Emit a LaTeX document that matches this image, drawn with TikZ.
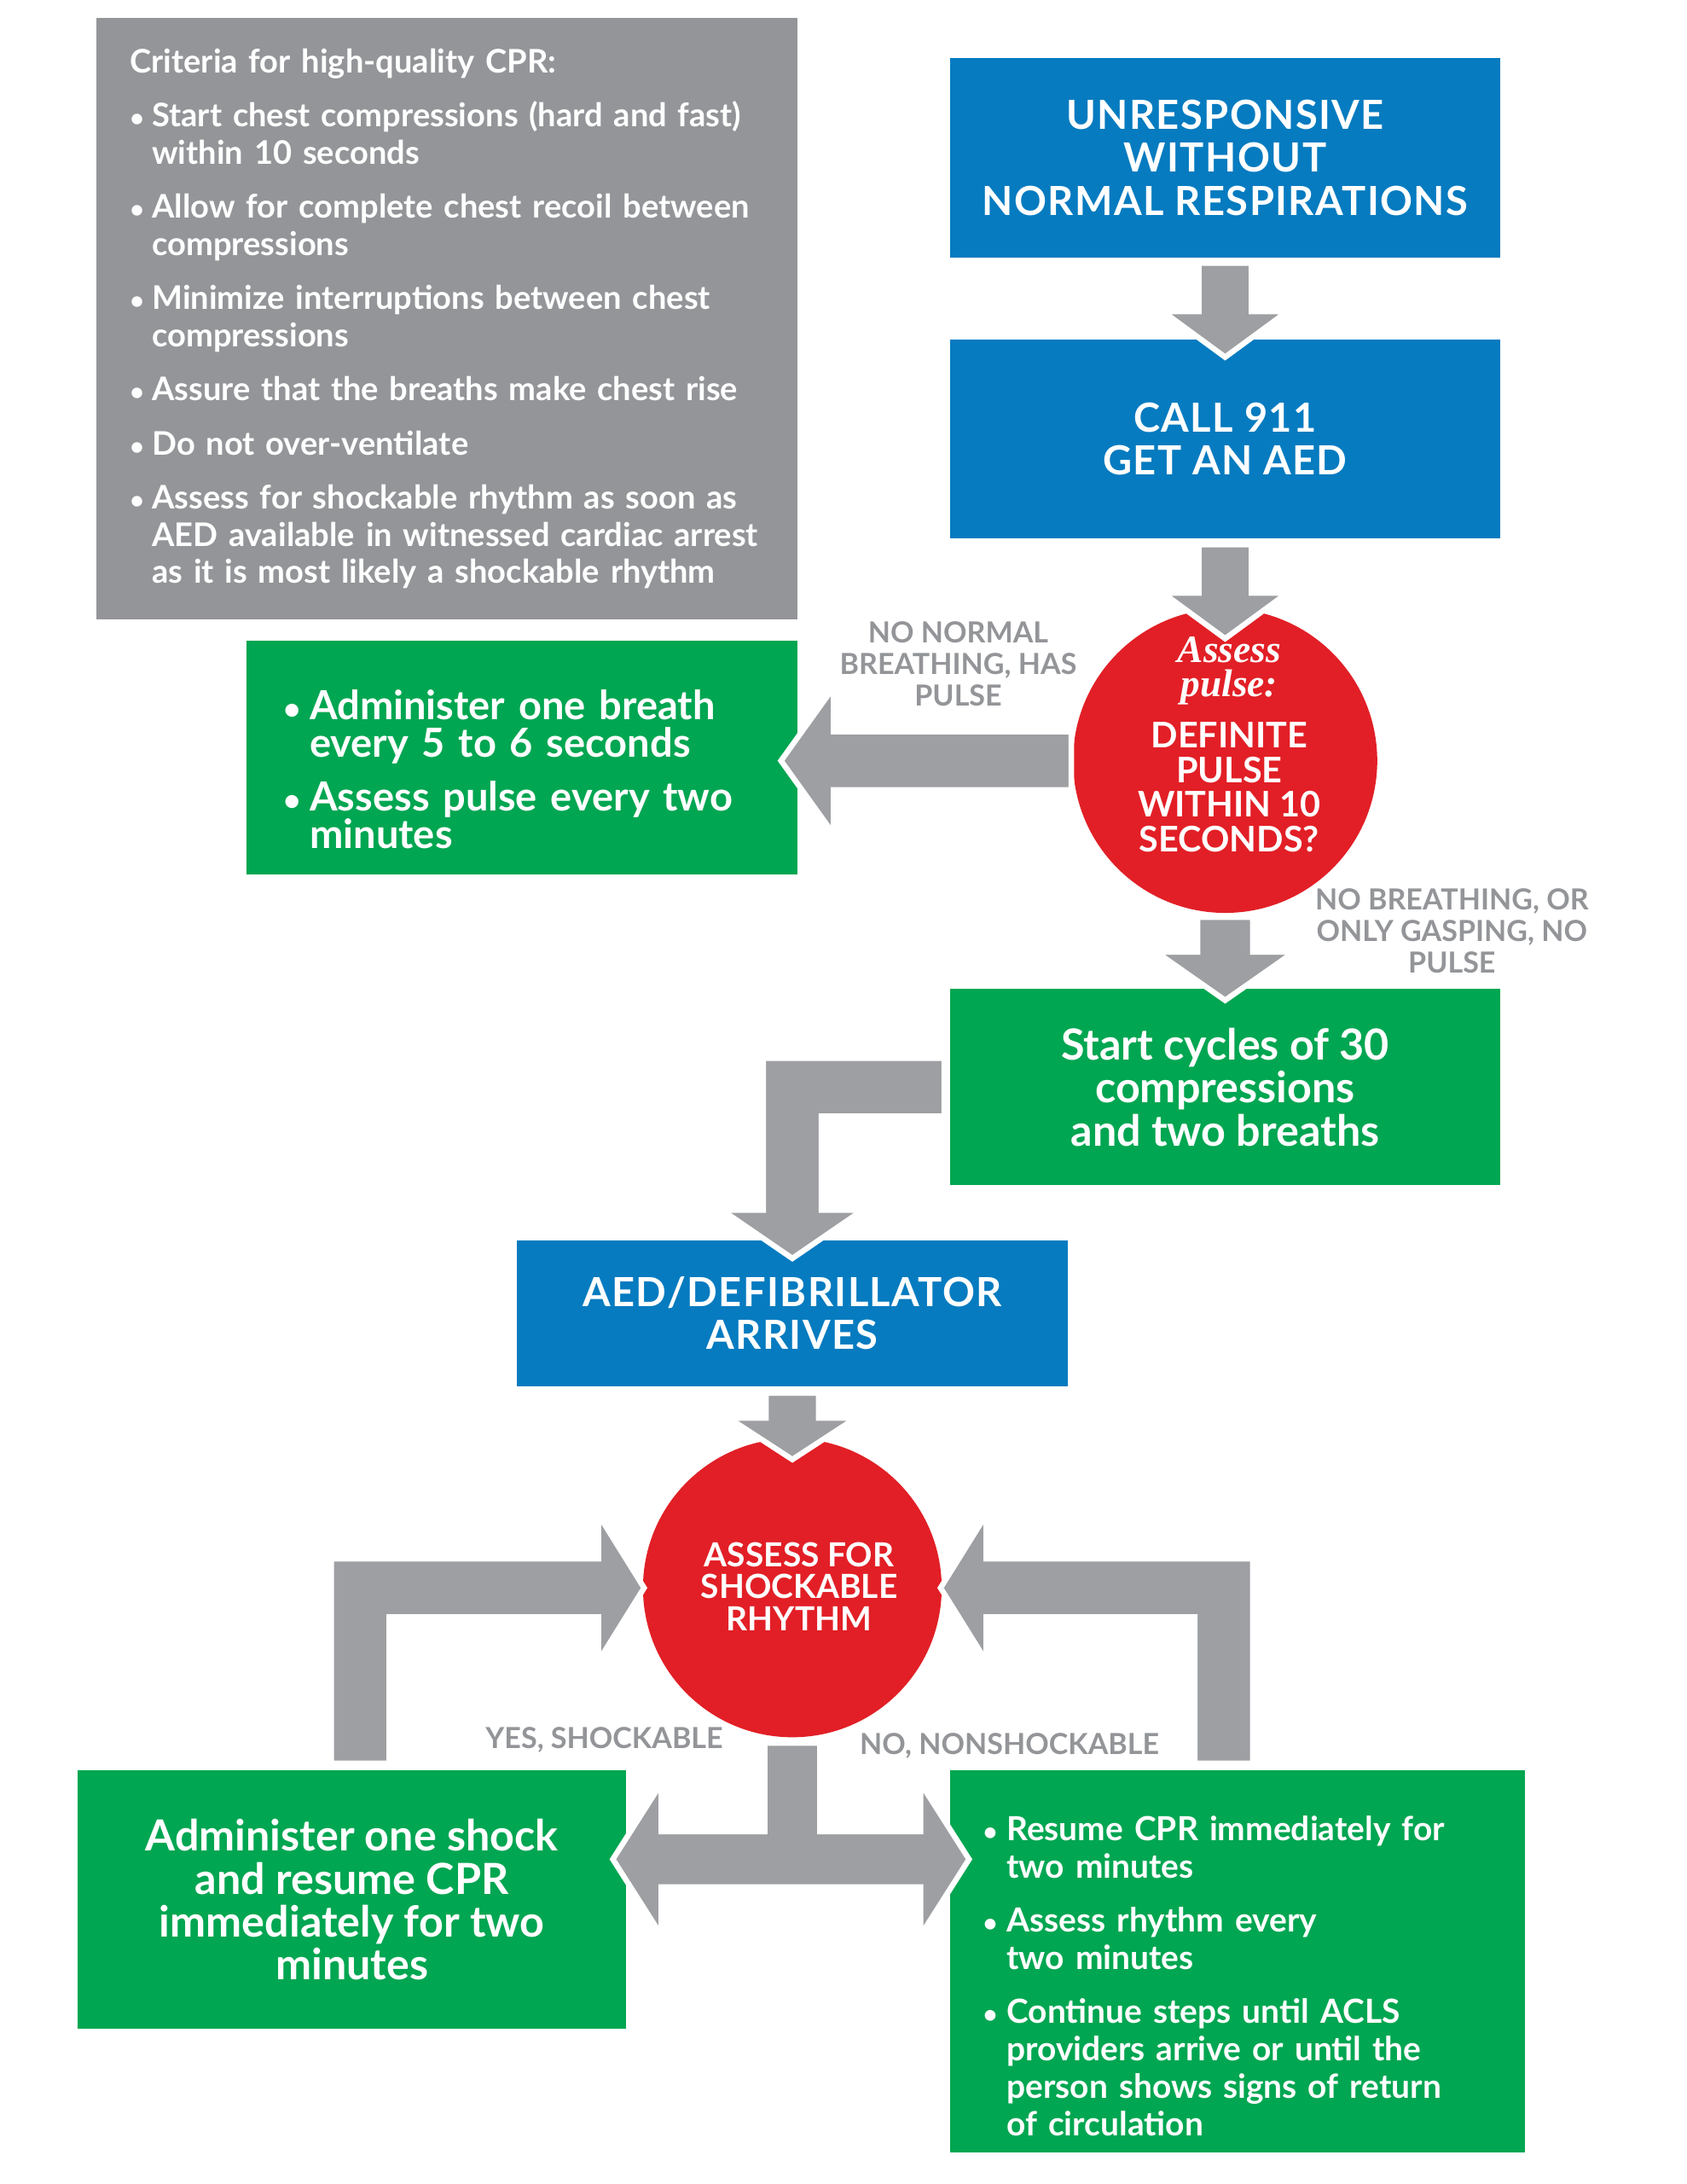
\documentclass[tikz,border=0pt]{standalone}
\usepackage{fontspec}
\setmainfont{Lato}
\newfontfamily\pulsefont{Liberation Serif}
\usetikzlibrary{calc}
\definecolor{cprblue}{HTML}{067BC0}
\definecolor{cprgreen}{HTML}{00A651}
\definecolor{cprred}{HTML}{E21F26}
\definecolor{boxgray}{HTML}{939598}
\definecolor{arrowgray}{HTML}{9D9FA2}
\definecolor{labelgray}{HTML}{939598}
\newcommand{\bitem}[2][15pt]{\par\noindent\hangindent=#1\hangafter=1\makebox[#1][l]{\scalebox{0.75}{\textbullet}}#2\par}
\tikzset{
  bluebox/.style={rectangle, fill=cprblue, text=white, minimum width=398pt, minimum height=144pt, align=center, inner sep=0pt, font=\bfseries\fontsize{29}{31}\selectfont\addfontfeature{LetterSpace=3}},
  greenbox/.style={rectangle, fill=cprgreen, text=white, minimum width=398pt, minimum height=142pt, align=center, inner sep=0pt, font=\bfseries\fontsize{31}{31}\selectfont},
  graybox/.style={rectangle, fill=boxgray, text=white, minimum width=507pt, minimum height=435pt, text width=459pt, inner xsep=24pt, inner ysep=0pt, align=left, font=\bfseries\fontsize{23.5}{27}\selectfont},
  redcirc/.style={circle, fill=cprred, inner sep=0pt},
  circtext/.style={text=white, align=center, inner sep=0pt, font=\bfseries\fontsize{25.5}{25}\selectfont},
  pathlabel/.style={text=labelgray, align=center, inner sep=0pt, font=\bfseries\fontsize{21}{23}\selectfont},
  blockarrow/.style={fill=arrowgray, draw=white, line width=4pt, line join=miter}
}
\begin{document}
\begin{tikzpicture}[x=1pt,y=-1pt]
\useasboundingbox (0,0) rectangle (1220,1579);
\fill[white] (0,0) rectangle (1220,1579);
% boxes and circles
\node[graybox] (crit) at (323.5,230.5) {\setlength{\parskip}{12pt}Criteria for high-quality CPR:
  \bitem[16pt]{Start chest compressions (hard and fast)\newline within 10 seconds}
  \bitem[16pt]{Allow for complete chest recoil between\newline compressions}
  \bitem[16pt]{Minimize interruptions between chest\newline compressions}
  \bitem[16pt]{Assure that the breaths make chest rise}
  \bitem[16pt]{Do not over-ventilate}
  \bitem[16pt]{Assess for shockable rhythm as soon as\newline AED available in witnessed cardiac arrest\newline as it is most likely a shockable rhythm}};
\node[bluebox] (unresp) at (886,114) {UNRESPONSIVE\\WITHOUT\\NORMAL RESPIRATIONS};
\node[bluebox] (call) at (886,317.5) {CALL 911\\GET AN AED};
\node[redcirc, minimum size=220pt] (pulse) at (886,550) {};
\node[greenbox, minimum width=399pt, minimum height=169pt, text width=345pt, inner xsep=27pt, align=left, font=\bfseries\fontsize{29}{27}\selectfont] (breath) at (377.5,547.5) {\setlength{\parskip}{12pt}%
  \bitem[19pt]{Administer one breath\newline every 5 to 6 seconds}
  \bitem[19pt]{Assess pulse every two\newline minutes}};
\node[greenbox] (cycles) at (886,786) {Start cycles of 30\\compressions\\and two breaths};
\node[bluebox, minimum height=105pt] (aed) at (573,949.5) {AED/DEFIBRILLATOR\\ARRIVES};
\node[redcirc, minimum size=216pt] (rhythm) at (573,1148) {};
\node[greenbox, minimum width=397pt, minimum height=187pt] (shock) at (254.5,1373.5) {Administer one shock\\and resume CPR\\immediately for two\\minutes};
\node[greenbox, minimum width=416pt, minimum height=276pt, text width=368pt, inner xsep=24pt, align=left, font=\bfseries\fontsize{24}{27}\selectfont] (resume) at (895,1418) {\setlength{\parskip}{12pt}%
  \bitem[17pt]{Resume CPR immediately for\newline two minutes}
  \bitem[17pt]{Assess rhythm every\newline two minutes}
  \bitem[17pt]{Continue steps until ACLS\newline providers arrive or until the\newline person shows signs of return\newline of circulation}};
% block arrows
\draw[blockarrow] ($(unresp.south)+(-19,4)$) -- ++(0,35) -- ++(-26,0) -- ++(45,33) -- ++(45,-33) -- ++(-26,0) -- ++(0,-35) -- cycle;
\draw[blockarrow] ($(call.south)+(-19,4)$) -- ++(0,35) -- ++(-26,0) -- ++(45,33) -- ++(45,-33) -- ++(-26,0) -- ++(0,-35) -- cycle;
\draw[blockarrow] ($(pulse.south)+(-20,3)$) -- ++(0,25) -- ++(-30,0) -- ++(50,35) -- ++(50,-35) -- ++(-30,0) -- ++(0,-25) -- cycle;
\draw[blockarrow] ($(pulse.west)+(-1,-21)$) -- ++(-172,0) -- ++(0,-32) -- ++(-38,53) -- ++(38,53) -- ++(0,-32) -- ++(172,0) -- cycle;
\coordinate (elb) at (aed.north |- cycles.west);
\draw[blockarrow] ($(cycles.west)+(-4,-21)$) -- ($(elb)+(-21,-21)$) -- ($(aed.north)+(-21,-22)$) -- ++(-30,0) -- ($(aed.north)+(0,13)$) -- ++(51,-35) -- ++(-30,0) -- ($(elb)+(21,21)$) -- ($(cycles.west)+(-4,21)$) -- cycle;
\draw[blockarrow] ($(aed.south)+(-19,5)$) -- ++(0,18) -- ++(-27,0) -- ++(46,30) -- ++(46,-30) -- ++(-27,0) -- ++(0,-18) -- cycle;
\coordinate (lcorner) at ($(shock.north |- rhythm.west)+(6,0)$);
\draw[blockarrow] ($(shock.north)+(-15,-5)$) -- ($(lcorner)+(-21,-21)$) -- ($(rhythm.west)+(-32,-21)$) -- ++(0,-32) -- ($(rhythm.west)+(1,0)$) -- ++(-33,53) -- ++(0,-32) -- ($(lcorner)+(21,21)$) -- ($(shock.north)+(27,-5)$) -- cycle;
\coordinate (rcorner) at ($(resume.north |- rhythm.east)+(-10,0)$);
\draw[blockarrow] ($(resume.north)+(11,-5)$) -- ($(rcorner)+(21,-21)$) -- ($(rhythm.east)+(32,-21)$) -- ++(0,-32) -- ($(rhythm.east)+(-1,0)$) -- ++(33,53) -- ++(0,-32) -- ($(rcorner)+(-21,21)$) -- ($(resume.north)+(-31,-5)$) -- cycle;
\coordinate (split) at ($(rhythm.south)+(0,88)$);
\coordinate (ltip) at ($(shock.east |- split)+(-10,0)$);
\coordinate (rtip) at ($(resume.west |- split)+(14,0)$);
\draw[blockarrow] ($(rhythm.south)+(-20,4)$) -- ($(split)+(-20,-20)$) -- ($(ltip)+(35,-20)$) -- ++(0,-35) -- (ltip) -- ++(35,55) -- ++(0,-35) -- ($(rtip)+(-35,20)$) -- ++(0,35) -- (rtip) -- ++(-35,-55) -- ++(0,35) -- ($(split)+(20,-20)$) -- ($(rhythm.south)+(20,4)$) -- cycle;
% circle texts
\node[circtext] (pulseq) at (889,538) {{\pulsefont\itshape\fontsize{28}{24}\selectfont Assess}\\{\pulsefont\itshape\fontsize{28}{24}\selectfont pulse:}\\[12pt]DEFINITE\\PULSE\\WITHIN 10\\SECONDS?};
\node[circtext, font=\bfseries\fontsize{24}{23}\selectfont] (rhythmq) at (578,1147) {ASSESS FOR\\SHOCKABLE\\RHYTHM};
% path labels
\node[pathlabel] (haspulse) at (693,480) {NO NORMAL\\BREATHING, HAS\\PULSE};
\node[pathlabel] (nopulse) at (1050,673) {NO BREATHING, OR\\ONLY GASPING, NO\\PULSE};
\node[pathlabel] (yesshock) at (437,1258) {YES, SHOCKABLE};
\node[pathlabel] (noshock) at (730,1262) {NO, NONSHOCKABLE};
\end{tikzpicture}
\end{document}
